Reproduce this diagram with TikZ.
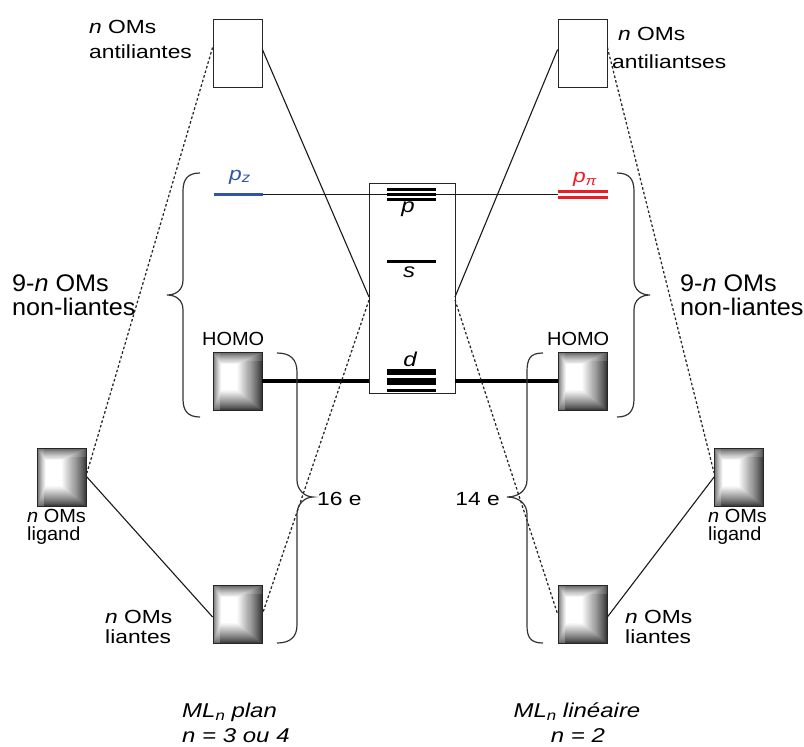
\documentclass[tikz,border=0pt]{standalone}
\usepackage{fontspec}
\setmainfont{Liberation Sans}
\newfontfamily\lbsans{Liberation Sans}[FakeStretch=1.2]
\newfontfamily\lbnarrow{Liberation Sans}[FakeStretch=1.05]
\definecolor{pzblue}{RGB}{47,85,164}
\definecolor{pired}{RGB}{237,28,36}
\newcommand\mosbox[3]{%
  \foreach \i in {0,...,48}{%
    \pgfmathsetmacro\tt{\i/48}%
    \pgfmathsetmacro\xa{#2-24.5+8*\tt}%
    \pgfmathsetmacro\xb{#2+24.5-25*\tt}%
    \pgfmathsetmacro\ya{#3-29+12*\tt}%
    \pgfmathsetmacro\yb{#3+29-20*\tt}%
    \pgfmathsetmacro\cc{22+78*(\tt^0.85)}%
    \fill[white!\cc!black] (\xa,\ya) rectangle (\xb,\yb);
  }%
  \fill[white, opacity=0.25] (#2-24.5,#3-29) rectangle (#2-18,#3+29);
  \fill[white, opacity=0.15] (#2-18,#3-29) rectangle (#2+24.5,#3-20);
  \node[draw=black!85, line width=0.8pt, minimum width=49pt, minimum height=58pt, inner sep=0pt] (#1) at (#2,#3) {};
}
\tikzset{
  lab/.style={inner sep=0pt, font=\lbsans\fontsize{19}{22}\selectfont},
  labn/.style={inner sep=0pt, font=\lbnarrow\fontsize{19}{22}\selectfont},
  labbig/.style={inner sep=0pt, font=\lbnarrow\fontsize{24}{28}\selectfont},
  labbot/.style={inner sep=0pt, font=\lbsans\fontsize{20}{24}\selectfont\itshape},
  wbox/.style={draw=black!85, line width=0.8pt, fill=white, minimum width=49pt, minimum height=68pt, inner sep=0pt},
  conn/.style={line width=1.1pt, black!90},
  dotc/.style={line width=1.25pt, black!85, dash pattern=on 2.6pt off 2.2pt},
  brace/.style={line width=1.2pt, black!80},
  lvl/.style={line width=3pt, black},
}
\begin{document}
\begin{tikzpicture}[x=1pt,y=-1pt]
\useasboundingbox (0,0) rectangle (804,747);

% central box
\node[draw=black!85, line width=0.8pt, minimum width=86pt, minimum height=210pt, inner sep=0pt] (M) at (412,288) {};
\coordinate (Ml1) at (369,297);
\coordinate (Ml2) at (369,300);
\coordinate (Mr1) at (455,297);
\coordinate (Mr2) at (455,300);

% antibonding boxes
\node[wbox] (TL) at (237.5,53.5) {};
\node[wbox] (TR) at (582.5,53.5) {};

% shaded boxes
\mosbox{HL}{237.5}{381}
\mosbox{HR}{582.5}{381}
\mosbox{GL}{62}{477}
\mosbox{GR}{739}{477}
\mosbox{BL}{237.5}{614}
\mosbox{BR}{582.5}{614}

% pz and ppi levels
\node[fill=pzblue, minimum width=49pt, minimum height=3.5pt, inner sep=0pt] (pz) at (238,194.5) {};
\node[minimum width=50pt, minimum height=9pt, inner sep=0pt] (ppi) at (583,194.5) {};
\fill[pired] (558,190) rectangle (608,193.2);
\fill[pired] (558,195.5) rectangle (608,198.8);
\draw[conn] (pz.east) -- (ppi.west);

% metal levels
\draw[lvl] (387,189.3) -- (436,189.3);
\draw[lvl] (387,194.2) -- (436,194.2);
\draw[lvl] (387,199.3) -- (436,199.3);
\draw[lvl] (387,261) -- (436,261);
\draw[line width=5.7pt] (387,372.2) -- (436,372.2);
\draw[line width=7.3pt] (387,381.3) -- (436,381.3);
\draw[line width=2.5pt] (387,390.5) -- (436,390.5);
\node[lab, anchor=base, font=\lbsans\fontsize{20}{22}\selectfont\itshape] (lp) at (408,212.5) {p};
\node[lab, anchor=base, font=\lbsans\fontsize{20}{22}\selectfont\itshape] (ls) at (409,277) {s};
\node[lab, anchor=base, font=\lbsans\fontsize{20}{22}\selectfont\itshape] (ld) at (410,366.5) {d};

% HOMO connectors
\draw[line width=3.5pt] (HL.east) -- (HL.east -| M.west);
\draw[line width=3.5pt] (HR.west) -- (HR.west -| M.east);

% correlation lines left
\draw[conn] ([yshift=4pt]TL.east) -- (Ml1);
\draw[dotc] (Ml2) -- (BL.east);
\draw[dotc] ([yshift=6pt]TL.west) -- ([yshift=4pt]GL.east);
\draw[conn] (GL.east) -- ([yshift=-3pt]BL.west);
% correlation lines right
\draw[conn] ([yshift=4pt]TR.west) -- (Mr1);
\draw[dotc] (Mr2) -- (BR.west);
\draw[dotc] ([yshift=6pt]TR.east) -- ([yshift=4pt]GR.west);
\draw[conn] (GR.west) -- ([yshift=-3pt]BR.east);

% big braces
\draw[brace] (200,173) .. controls (188,173) and (183,179) .. (183,191) -- (183,280)
  .. controls (183,290) and (176,295) .. (167,295)
  .. controls (176,295) and (183,300) .. (183,310) -- (183,399)
  .. controls (183,411) and (188,417) .. (200,417);
\draw[brace] (617,173) .. controls (629,173) and (634,179) .. (634,191) -- (634,280)
  .. controls (634,290) and (641,295) .. (650,295)
  .. controls (641,295) and (634,300) .. (634,310) -- (634,399)
  .. controls (634,411) and (629,417) .. (617,417);

% electron braces
\draw[brace] (277,353) .. controls (290,353) and (297,359) .. (297,372) -- (297,480)
  .. controls (297,490) and (305,497) .. (313,497)
  .. controls (305,497) and (297,504) .. (297,514) -- (297,625)
  .. controls (297,637) and (290,643) .. (277,643);
\draw[brace] (543,353) .. controls (530,353) and (527,359) .. (527,372) -- (527,480)
  .. controls (527,490) and (519,497) .. (507,497)
  .. controls (519,497) and (527,504) .. (527,514) -- (527,625)
  .. controls (527,637) and (530,643) .. (543,643);

% labels
\node[lab, anchor=base west] (tl1) at (89,33) {\textit{n} OMs};
\node[lab, anchor=base west] (tl2) at (89,58) {antiliantes};
\node[lab, anchor=base west] (tr1) at (618,40) {\textit{n} OMs};
\node[lab, anchor=base west] (tr2) at (612,68) {antiliantses};

\node[labbig, anchor=base west] (nl1) at (12,291) {9-\textit{n} OMs};
\node[labbig, anchor=base west] (nl2) at (12,315) {non-liantes};
\node[labbig, anchor=base west] (nr1) at (680,291) {9-\textit{n} OMs};
\node[labbig, anchor=base west] (nr2) at (680,315) {non-liantes};

\node[labn, anchor=base west] (hl) at (202,345) {HOMO};
\node[labn, anchor=base west] (hr) at (547,345) {HOMO};

\node[labn, anchor=base west] (gl1) at (27,522) {\textit{n} OMs};
\node[labn, anchor=base west] (gl2) at (27,540) {ligand};
\node[labn, anchor=base west] (gr1) at (708,522) {\textit{n} OMs};
\node[labn, anchor=base west] (gr2) at (708,540) {ligand};

\node[lab, anchor=base west] (bl1) at (105,623) {\textit{n} OMs};
\node[lab, anchor=base west] (bl2) at (105,643) {liantes};
\node[lab, anchor=base west] (br1) at (625,623) {\textit{n} OMs};
\node[lab, anchor=base west] (br2) at (625,643) {liantes};

\node[lab, anchor=base west] (e16) at (317,505) {16 e};
\node[lab, anchor=base east] (e14) at (500,505) {14 e};

\node[lab, anchor=base west, text=pzblue] (lpz) at (229,180) {\textit{p}\raisebox{-0.25ex}{\fontsize{14}{14}\selectfont\textit{z}}};
\node[lab, anchor=base west, text=pired] (lpi) at (573,182) {\textit{p}\raisebox{-0.3ex}{\fontsize{13}{13}\selectfont\textit{π}}};

\node[labbot, anchor=base west] (ml1) at (182,717) {ML\raisebox{-0.3ex}{\fontsize{14}{14}\selectfont\textit{n}} plan};
\node[labbot, anchor=base west] (ml2) at (182,742) {n = 3 ou 4};
\node[labbot, anchor=base] (mr1) at (577,717) {ML\raisebox{-0.3ex}{\fontsize{14}{14}\selectfont\textit{n}} linéaire};
\node[labbot, anchor=base] (mr2) at (578,742) {n = 2};
\end{tikzpicture}
\end{document}
